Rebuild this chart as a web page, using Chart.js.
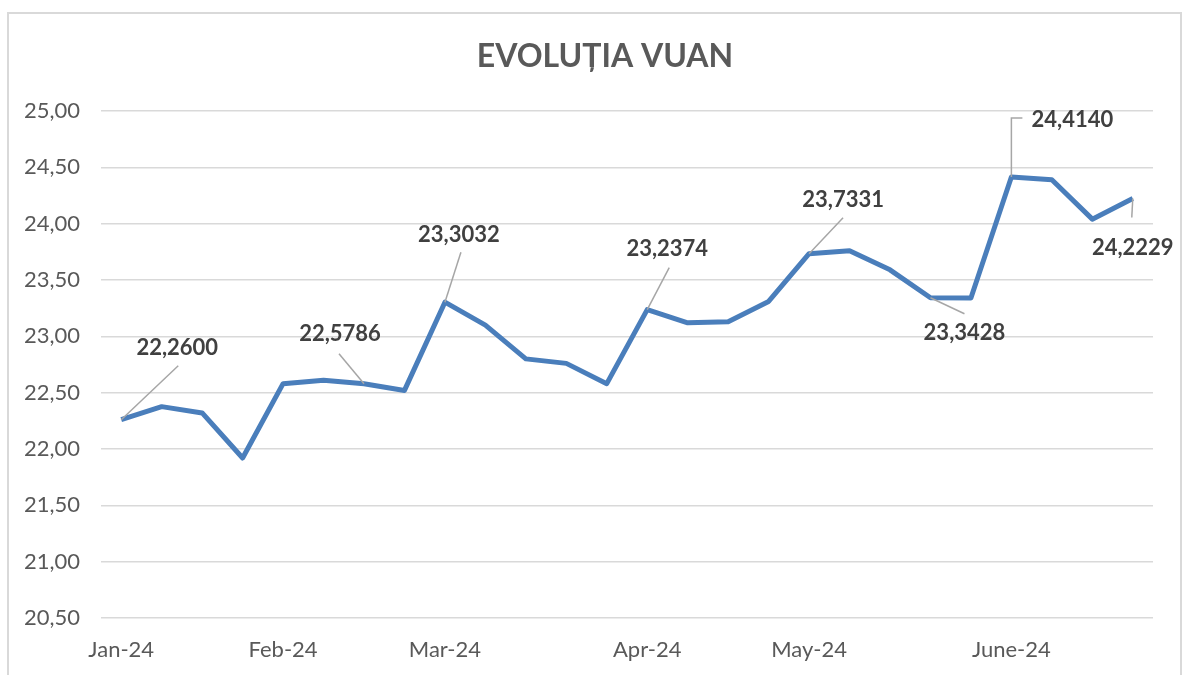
<!DOCTYPE html>
<html>
<head>
<meta charset="utf-8">
<script src="https://cdn.jsdelivr.net/npm/chart.js@4"></script>
<style>
    html, body { margin: 0; padding: 0; background: #fff; }
    #wrap { position: relative; width: 1195px; height: 675px; overflow: hidden; }
    #frame { position: absolute; left: 7px; top: 12px; width: 1175px; height: 700px; border: 2px solid #d9d9d9; box-sizing: border-box; }
    #vuanChart { position: absolute; left: 0; top: 0; }
</style>
</head>
<body>
<div id="wrap">
    <div id="frame"></div>
    <canvas id="vuanChart" width="1195" height="675"></canvas>
</div>
<script>
// weekly points, month label only on the first week of each month
const labels = ["Jan-24", "", "", "", "Feb-24", "", "", "", "Mar-24", "", "", "", "", "Apr-24", "", "", "", "May-24", "", "", "", "", "June-24", "", "", ""];
const values = [22.26, 22.376, 22.32, 21.92, 22.58, 22.61, 22.5786, 22.52, 23.3032, 23.10, 22.80, 22.76, 22.58,
                23.2374, 23.12, 23.13, 23.31, 23.7331, 23.76, 23.59, 23.3428, 23.34, 24.414, 24.39, 24.04, 24.2229];
const labelled = [0, 6, 8, 13, 17, 20, 22, 25];
const yTicks = [20.5, 21, 21.5, 22, 22.5, 23, 23.5, 24, 24.5, 25];
const chartTitle = "EVOLUȚIA VUAN";

// label placement relative to the point: [text dx, text dy, leader dx, leader dy]
const labelPos = {
    0: [56, -72, 57, -54],
    6: [-24, -50, -25, -30],
    8: [14, -67, 16, -50],
    13: [20, -61, 22, -42],
    17: [34, -54, 34, -36],
    20: [34, 35, 34, 16],
    22: [61, -57, 11, -59],
    25: [0, 49, -1, 19]
};

const fmt = v => v.toFixed(4).replace(".", ",");

// Excel-style title, sits a bit left of the plot centre
const titlePlugin = {
    id: "excelTitle",
    afterDraw(chart) {
        const ctx = chart.ctx;
        ctx.save();
        ctx.fillStyle = "#595959";
        ctx.font = "bold 32px Lato";
        ctx.textAlign = "center";
        ctx.textBaseline = "middle";
        ctx.fillText(chartTitle, 605, 57);
        ctx.restore();
    }
};

const leaderLabels = {
    id: "leaderLabels",
    afterDatasetsDraw(chart) {
        const ctx = chart.ctx;
        const pts = chart.getDatasetMeta(0).data;
        ctx.save();
        labelled.forEach(i => {
            const p = pts[i];
            const [tx, ty, lx, ly] = labelPos[i];
            ctx.strokeStyle = "#a6a6a6";
            ctx.lineWidth = 1.5;
            ctx.beginPath();
            ctx.moveTo(p.x, p.y);
            if (i === 22) {
                ctx.lineTo(p.x, p.y + ly);
                ctx.lineTo(p.x + lx, p.y + ly);
            } else {
                ctx.lineTo(p.x + lx, p.y + ly);
            }
            ctx.stroke();
            ctx.fillStyle = "#404040";
            ctx.font = "bold 22px Lato";
            ctx.textAlign = "center";
            ctx.textBaseline = "middle";
            ctx.fillText(fmt(values[i]), p.x + tx, p.y + ty);
        });
        ctx.restore();
    }
};

new Chart(document.getElementById("vuanChart"), {
    type: "line",
    data: {
        labels: labels,
        datasets: [{
            data: values,
            borderColor: "#4a7ebb",
            borderWidth: 5,
            pointRadius: 0,
            tension: 0,
            borderJoinStyle: "round"
        }]
    },
    options: {
        responsive: false,
        animation: false,
        layout: { padding: { top: 111, right: 42, bottom: 8, left: 0 } },
        plugins: {
            legend: { display: false },
            tooltip: { enabled: false },
            title: { display: false }
        },
        scales: {
            x: {
                offset: true,
                grid: { display: false },
                border: { display: false },
                ticks: {
                    autoSkip: false,
                    maxRotation: 0,
                    padding: 11,
                    color: "#595959",
                    font: { family: "Lato", size: 22 }
                },
                afterFit: s => { s.height = 49; }
            },
            y: {
                min: 20.5,
                max: 25,
                afterBuildTicks: s => { s.ticks = yTicks.map(v => ({ value: v })); },
                grid: { color: "#d9d9d9", lineWidth: 1.5, drawTicks: false },
                border: { display: false },
                ticks: {
                    padding: 21,
                    color: "#595959",
                    font: { family: "Lato", size: 22 },
                    callback: v => v.toFixed(2).replace(".", ",")
                },
                afterFit: s => { s.width = 101; }
            }
        }
    },
    plugins: [leaderLabels, titlePlugin]
});
</script>
</body>
</html>
